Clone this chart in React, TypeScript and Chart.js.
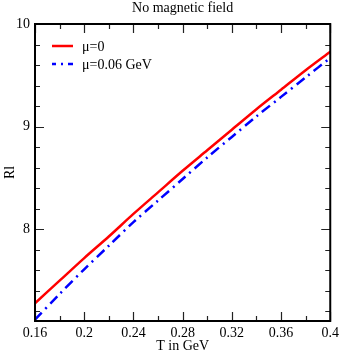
import React, { useEffect, useRef } from "react";
import { Chart, registerables } from "chart.js";

Chart.register(...registerables);

const TITLE = "No magnetic field";
const X_TITLE = "T in GeV";
const Y_TITLE = "Rl";
const SERIES_LABELS = ["μ=0", "μ=0.06 GeV"];

const T_VALUES = [0.16, 0.18, 0.2, 0.22, 0.24, 0.26, 0.28, 0.3, 0.32, 0.34, 0.36, 0.38, 0.4];
const RL_MU0 = [7.28, 7.5, 7.72, 7.93, 8.15, 8.36, 8.57, 8.77, 8.97, 9.17, 9.36, 9.55, 9.73];
const RL_MU006 = [7.12, 7.37, 7.61, 7.84, 8.07, 8.28, 8.49, 8.7, 8.9, 9.1, 9.29, 9.48, 9.67];

const X_TICKS = [0.16, 0.18, 0.2, 0.22, 0.24, 0.26, 0.28, 0.3, 0.32, 0.34, 0.36, 0.38, 0.4];
const X_MAJOR = [0.16, 0.2, 0.24, 0.28, 0.32, 0.36, 0.4];
const Y_TICKS = [7.2, 7.4, 7.6, 7.8, 8, 8.2, 8.4, 8.6, 8.8, 9, 9.2, 9.4, 9.6, 9.8, 10];
const Y_MAJOR = [8, 9, 10];

const X_MIN = 0.16;
const X_MAX = 0.4;
const Y_MIN = 7.107;
const Y_MAX = 10;

const FONT = "'Liberation Serif', 'Times New Roman', serif";

const isIn = (arr: number[], v: number) => arr.some((a) => Math.abs(a - v) < 1e-6);

const decorPlugin = {
  id: "decor",
  afterDatasetsDraw(chart: any) {
    const ctx = chart.ctx as CanvasRenderingContext2D;
    const { left, right, top, bottom } = chart.chartArea;
    const xs = chart.scales.x;
    const ys = chart.scales.y;
    ctx.save();
    // ticks (inward, mirrored)
    ctx.strokeStyle = "#222";
    ctx.lineWidth = 1.2;
    ctx.beginPath();
    xs.ticks.forEach((t: any) => {
      const px = Math.round(xs.getPixelForValue(t.value)) + 0.5;
      const len = isIn(X_MAJOR, t.value) ? 9 : 5;
      ctx.moveTo(px, bottom);
      ctx.lineTo(px, bottom - len);
      ctx.moveTo(px, top);
      ctx.lineTo(px, top + len);
    });
    ys.ticks.forEach((t: any) => {
      const py = Math.round(ys.getPixelForValue(t.value)) + 0.5;
      const len = isIn(Y_MAJOR, t.value) ? 9 : 5;
      ctx.moveTo(left, py);
      ctx.lineTo(left + len, py);
      ctx.moveTo(right, py);
      ctx.lineTo(right - len, py);
    });
    ctx.stroke();
    // frame
    ctx.strokeStyle = "#000";
    ctx.lineWidth = 2;
    ctx.strokeRect(left, top, right - left, bottom - top);

    // legend
    ctx.font = `14px ${FONT}`;
    ctx.textBaseline = "middle";
    ctx.textAlign = "left";
    const ds = chart.data.datasets;
    const legendY = [top + 22, top + 40];
    ds.forEach((d: any, i: number) => {
      const y = legendY[i];
      ctx.beginPath();
      ctx.strokeStyle = d.borderColor;
      ctx.lineWidth = d.borderWidth;
      ctx.setLineDash(d.borderDash || []);
      ctx.lineDashOffset = i === 1 ? 6 : 0;
      ctx.moveTo(left + 17, y);
      ctx.lineTo(left + 38, y);
      ctx.stroke();
      ctx.setLineDash([]);
      ctx.fillStyle = "#000";
      ctx.fillText(d.label, left + 47, y + 1);
    });

    // titles
    ctx.fillStyle = "#000";
    ctx.textAlign = "center";
    ctx.font = `14px ${FONT}`;
    ctx.fillText(TITLE, (left + right) / 2, 8);
    ctx.fillText(X_TITLE, (left + right) / 2, 346);
    ctx.translate(10, (top + bottom) / 2);
    ctx.rotate(-Math.PI / 2);
    ctx.fillText(Y_TITLE, 0, 0);
    ctx.restore();
  },
};

function App() {
  const ref = useRef<HTMLCanvasElement | null>(null);
  useEffect(() => {
    document.body.style.margin = "0";
    const canvas = ref.current!;
    const chart = new Chart(canvas, {
      type: "line",
      data: {
        datasets: [
          {
            label: SERIES_LABELS[0],
            data: T_VALUES.map((t, i) => ({ x: t, y: RL_MU0[i] })),
            borderColor: "#ff0000",
            borderWidth: 2.5,
            pointRadius: 0,
            tension: 0.3,
            fill: false,
          },
          {
            label: SERIES_LABELS[1],
            data: T_VALUES.map((t, i) => ({ x: t, y: RL_MU006[i] })),
            borderColor: "#0000ff",
            borderWidth: 2.5,
            borderDash: [10, 5, 2, 5],
            pointRadius: 0,
            tension: 0.3,
            fill: false,
          },
        ],
      },
      options: {
        responsive: false,
        animation: false,
        devicePixelRatio: 1,
        layout: { padding: { left: 0, right: 10, top: 24, bottom: 0 } },
        plugins: {
          legend: { display: false },
          title: { display: false },
          tooltip: { enabled: false },
        },
        scales: {
          x: {
            type: "linear",
            min: X_MIN,
            max: X_MAX,
            grid: { display: false, drawTicks: false, tickLength: 0 },
            border: { display: false },
            afterBuildTicks: (s: any) => {
              s.ticks = X_TICKS.map((v) => ({ value: v }));
            },
            afterFit: (s: any) => {
              s.height = 32;
            },
            ticks: {
              autoSkip: false,
              maxRotation: 0,
              padding: 4,
              color: "#000",
              font: { family: FONT, size: 14 },
              callback: (v: any) => (isIn(X_MAJOR, Number(v)) ? String(Number(Number(v).toFixed(2))) : ""),
            },
          },
          y: {
            type: "linear",
            min: Y_MIN,
            max: Y_MAX,
            grid: { display: false, drawTicks: false, tickLength: 0 },
            border: { display: false },
            afterBuildTicks: (s: any) => {
              s.ticks = Y_TICKS.map((v) => ({ value: v }));
            },
            afterFit: (s: any) => {
              s.width = 35;
            },
            ticks: {
              autoSkip: false,
              padding: 5,
              color: "#000",
              font: { family: FONT, size: 14 },
              callback: (v: any) => (isIn(Y_MAJOR, Number(v)) ? String(Math.round(Number(v))) : ""),
            },
          },
        },
      },
      plugins: [decorPlugin],
    });
    return () => chart.destroy();
  }, []);
  return (
    <div style={{ width: 343, height: 353 }}>
      <canvas ref={ref} width={343} height={353} style={{ display: "block" }} />
    </div>
  );
}

export default App;
